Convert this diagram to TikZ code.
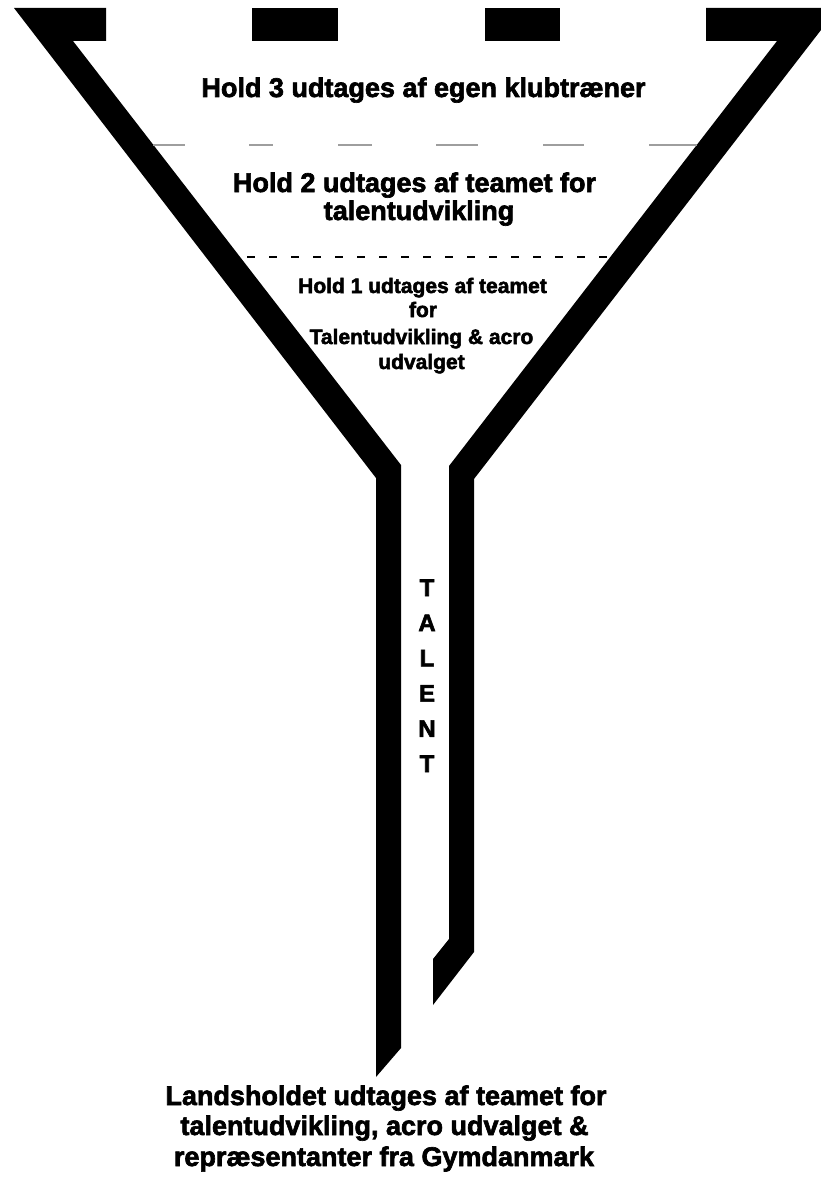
\documentclass[tikz,border=0pt]{standalone}
\usepackage{fontspec}
\newfontfamily\impfont{Liberation Sans}[FakeBold=2.4]
\tikzset{
  funnelpart/.style={fill=black, draw=none},
  txtbase/.style={anchor=base, inner sep=0pt, outer sep=0pt, text=black},
  bigtxt/.style={txtbase, font=\impfont\bfseries\fontsize{27}{30}\selectfont},
  midtxt/.style={txtbase, font=\impfont\bfseries\fontsize{21}{25}\selectfont},
  lettertxt/.style={txtbase, font=\impfont\bfseries\fontsize{24}{28}\selectfont},
  graydash/.style={draw=black!38, line width=2pt},
  blackdash/.style={draw=black, line width=1.6pt, dash pattern=on 8pt off 14pt},
}
\begin{document}
\begin{tikzpicture}[x=1pt,y=-1pt]
\useasboundingbox (0,0) rectangle (821,1180);
\fill[white] (0,0) rectangle (821,1180);

% funnel left arm with its top bar and stem
\fill[funnelpart] (14,8) -- (106,8) -- (106,41) -- (73,41) -- (401,465)
  -- (401,1048) -- (376,1077) -- (376,478) -- cycle;
% funnel right arm with its top bar and stem
\fill[funnelpart] (706,8) -- (838,8) -- (474,479) -- (474,952) -- (433,1005)
  -- (433,959) -- (449,939) -- (449,466) -- (777,41) -- (706,41) -- cycle;
% top dashes
\fill[funnelpart] (252,8) rectangle (338,41);
\fill[funnelpart] (485,8) rectangle (560,41);

% gray dashed level line
\foreach \a/\b in {153/185, 249/273, 338/372, 436/478, 543/584, 649/697}
  \draw[graydash] (\a,145) -- (\b,145);

% black dashed level line
\coordinate (dl) at (247,257);
\coordinate (dr) at (610,257);
\draw[blackdash] (dl) -- (dr);

% texts
\node[bigtxt] (hold3) at (423.5,97) {Hold 3 udtages af egen klubtræner};

\node[bigtxt] (hold2a) at (414.5,192) {Hold 2 udtages af teamet for};
\node[bigtxt] (hold2b) at (419,220) {talentudvikling};

\node[midtxt] (hold1a) at (422.5,293) {Hold 1 udtages af teamet};
\node[midtxt] (hold1b) at (423,317) {for};
\node[midtxt] (hold1c) at (421.5,344) {Talentudvikling \& acro};
\node[midtxt] (hold1d) at (421.5,369) {udvalget};

\foreach \L [count=\i] in {T,A,L,E,N,T}
  \node[lettertxt] (tal\i) at (427,{596+35.2*(\i-1)}) {\L};

\node[bigtxt] (landsa) at (386,1105) {Landsholdet udtages af teamet for};
\node[bigtxt] (landsb) at (384.5,1135) {talentudvikling, acro udvalget \&};
\node[bigtxt] (landsc) at (384,1166) {repræsentanter fra Gymdanmark};
\end{tikzpicture}
\end{document}
